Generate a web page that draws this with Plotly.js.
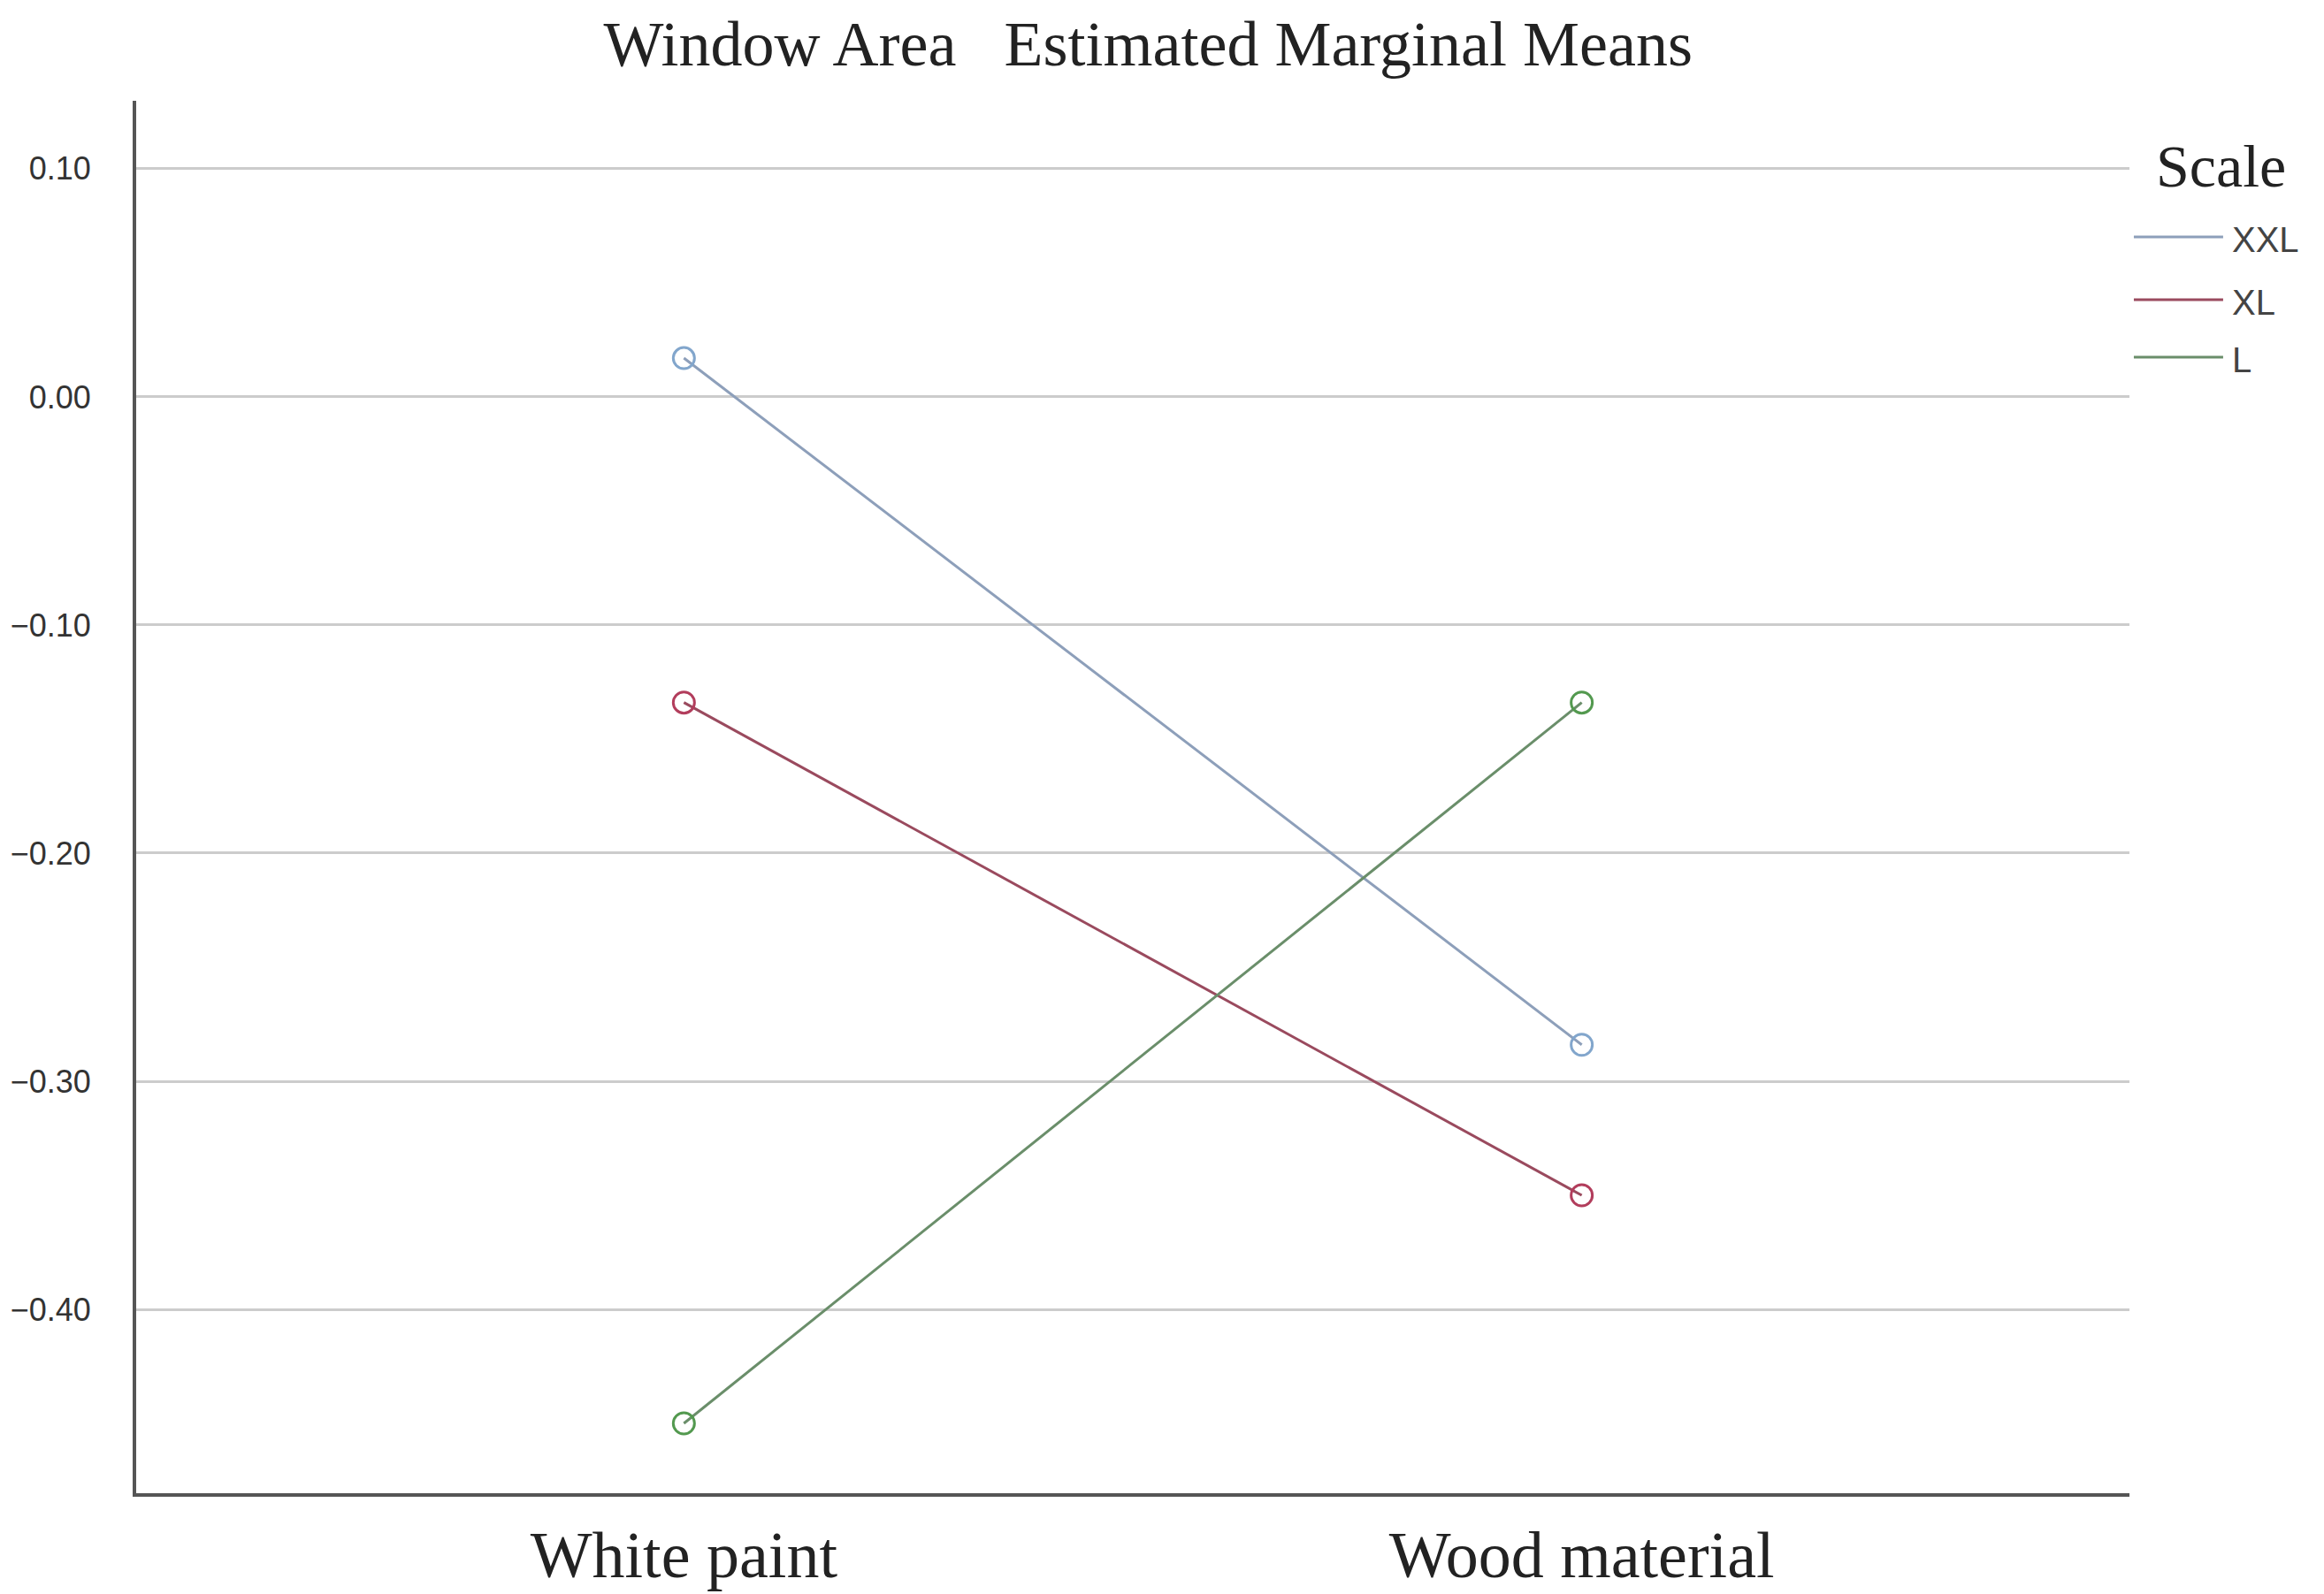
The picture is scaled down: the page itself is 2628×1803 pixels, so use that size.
<!DOCTYPE html>
<html>
<head>
<meta charset="utf-8">
<script src="https://cdn.plot.ly/plotly-3.0.1.min.js"></script>
<style>
  html, body { margin: 0; padding: 0; background: #ffffff; }
  #chart { width: 2628px; height: 1803px; }
</style>
</head>
<body>
<div id="chart"></div>
<script>
// Window Area - estimated marginal means by finish and scale
const finishes = ['White paint', 'Wood material'];
const scales = ['XXL', 'XL', 'L'];
const xxlMeans = [0.017, -0.284];
const xlMeans = [-0.134, -0.350];
const lMeans = [-0.450, -0.134];
const yTicks = [0.10, 0.00, -0.10, -0.20, -0.30, -0.40];

const lineColors = ['#8d9fba', '#9a4a5e', '#6a8e6a'];
const markerColors = ['#82a6cc', '#b23d5c', '#53994f'];
const seriesValues = [xxlMeans, xlMeans, lMeans];

const serif = '"Liberation Serif", "DejaVu Serif", serif';
const sans = '"Liberation Sans", Arial, sans-serif';

const traces = scales.map((name, i) => ({
  x: finishes,
  y: seriesValues[i],
  name: name,
  type: 'scatter',
  mode: 'lines+markers',
  line: { color: lineColors[i], width: 3 },
  marker: {
    symbol: 'circle-open',
    size: 24,
    color: markerColors[i],
    line: { width: 3, color: markerColors[i] }
  }
}));

// legend drawn by hand: SPSS style, line only, no marker
const legendRows = [0.9022, 0.8571, 0.8159];
const shapes = scales.map((name, i) => ({
  type: 'line',
  xref: 'paper', yref: 'paper',
  x0: 1.0022, x1: 1.047,
  y0: legendRows[i], y1: legendRows[i],
  line: { color: lineColors[i], width: 3 }
}));
const annotations = scales.map((name, i) => ({
  xref: 'paper', yref: 'paper',
  x: 1.0506, y: legendRows[i] - 0.002,
  xanchor: 'left', yanchor: 'middle',
  text: name,
  showarrow: false,
  font: { family: sans, size: 40, color: '#444444' }
}));
annotations.push({
  xref: 'paper', yref: 'paper',
  x: 1.0461, y: 0.953,
  xanchor: 'center', yanchor: 'middle',
  text: 'Scale',
  showarrow: false,
  font: { family: serif, size: 68, color: '#222222' }
});

const layout = {
  width: 2628,
  height: 1803,
  paper_bgcolor: '#ffffff',
  plot_bgcolor: '#ffffff',
  margin: { l: 154, r: 220, t: 114, b: 114 },
  title: {
    text: 'Window Area&nbsp;&nbsp;&nbsp;Estimated Marginal Means',
    font: { family: serif, size: 72, color: '#222222' },
    x: 0.494,
    xanchor: 'center',
    y: 0.973,
    yanchor: 'middle'
  },
  xaxis: {
    type: 'category',
    range: [-0.61, 1.61],
    showgrid: false,
    zeroline: false,
    showline: true,
    linecolor: '#555555',
    linewidth: 4,
    ticks: '',
    tickfont: { family: serif, size: 74, color: '#222222' },
    ticklabelstandoff: 2
  },
  yaxis: {
    range: [-0.4806, 0.1298],
    tickvals: yTicks,
    tickformat: '.2f',
    showgrid: true,
    gridcolor: '#cccccc',
    gridwidth: 3,
    zeroline: false,
    showline: true,
    linecolor: '#555555',
    linewidth: 4,
    ticks: '',
    tickfont: { family: sans, size: 36, color: '#333333' },
    ticklabelstandoff: 40
  },
  showlegend: false,
  shapes: shapes,
  annotations: annotations
};

Plotly.newPlot('chart', traces, layout, { displayModeBar: false, staticPlot: true });
</script>
</body>
</html>
